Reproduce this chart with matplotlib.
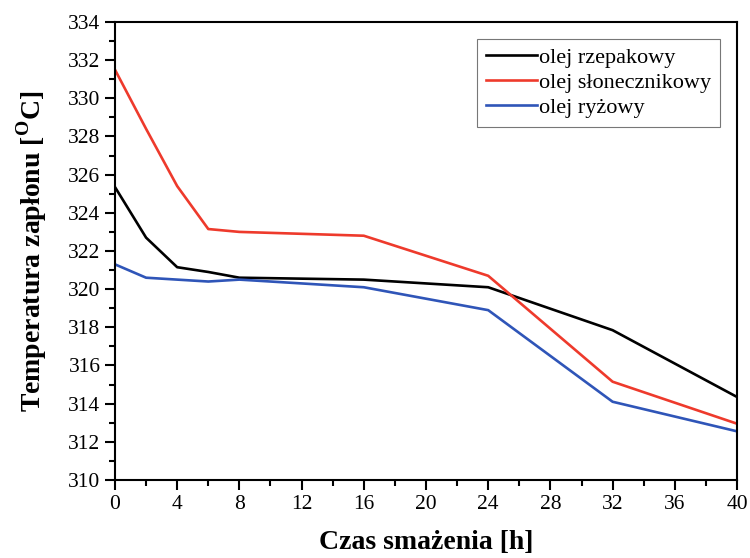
import numpy as np
import matplotlib.pyplot as plt
from matplotlib.ticker import MultipleLocator

plt.rcParams['font.family'] = ['Liberation Serif', 'DejaVu Serif']
plt.rcParams['mathtext.fontset'] = 'custom'
plt.rcParams['mathtext.rm'] = 'Liberation Serif'
plt.rcParams['mathtext.bf'] = 'Liberation Serif:bold'

#-------------------------------------------------------------------------------
# data
czas = [0, 2, 4, 6, 8, 16, 24, 32, 40]
rzepakowy = [325.35, 322.7, 321.15, 320.9, 320.6, 320.5, 320.1, 317.85, 314.35]
slonecznikowy = [331.5, 328.4, 325.4, 323.15, 323.0, 322.8, 320.7, 315.15, 312.95]
ryzowy = [321.3, 320.6, 320.5, 320.4, 320.5, 320.1, 318.9, 314.1, 312.55]
etykiety = ['olej rzepakowy', 'olej słonecznikowy', 'olej ryżowy']
kolory = ['#000000', '#ee3a2c', '#2f55b8']
#-------------------------------------------------------------------------------

fig = plt.figure(figsize=(7.5, 5.58), dpi=100)
ax = fig.add_axes([0.1533, 0.1398, 0.8294, 0.8208])

for seria, lab, kol in zip([rzepakowy, slonecznikowy, ryzowy], etykiety, kolory):
    ax.plot(czas, seria, color=kol, lw=1.9, label=lab)

ax.set_xlim(0, 40)
ax.set_ylim(310, 334)
ax.xaxis.set_major_locator(MultipleLocator(4))
ax.xaxis.set_minor_locator(MultipleLocator(2))
ax.yaxis.set_major_locator(MultipleLocator(2))
ax.yaxis.set_minor_locator(MultipleLocator(1))
ax.tick_params(which='both', direction='out', top=False, right=False,
               labelsize=15.5, width=1.5)
ax.tick_params(which='major', length=7)
ax.tick_params(which='minor', length=4)
for s in ax.spines.values():
    s.set_linewidth(1.5)

ax.set_xlabel('Czas smażenia [h]', fontsize=20, fontweight='bold', labelpad=12)
ax.set_ylabel(r'Temperatura zapłonu [$^{\mathbf{O}}$C]', fontsize=20,
              fontweight='bold', labelpad=14)

leg = ax.legend(loc='upper right', fontsize=16, frameon=True, fancybox=False,
                edgecolor='#555555', handlelength=2.3, handletextpad=0.1,
                labelspacing=0.2, borderaxespad=0.75, borderpad=0.4)
leg.get_frame().set_linewidth(0.8)

plt.savefig('out.png', dpi=100)
plt.close()
